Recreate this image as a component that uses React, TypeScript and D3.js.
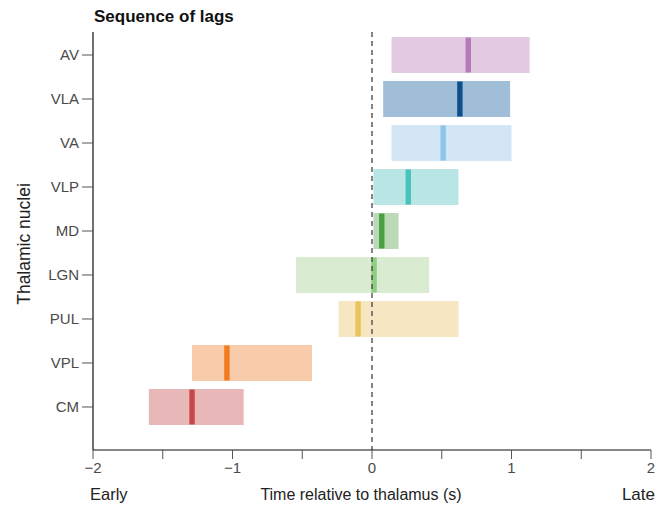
import React from 'react'
import * as d3 from 'd3'

// thalamic nuclei, top to bottom
const nuclei = ['AV', 'VLA', 'VA', 'VLP', 'MD', 'LGN', 'PUL', 'VPL', 'CM']
const lagStart = [0.14, 0.08, 0.14, 0.01, 0.01, -0.545, -0.24, -1.29, -1.6]
const lagEnd = [1.13, 0.99, 1.0, 0.62, 0.19, 0.41, 0.62, -0.43, -0.92]
const lagMedian = [0.69, 0.63, 0.51, 0.26, 0.07, 0.015, -0.1, -1.04, -1.29]
const fills = ['#e2cbe1', '#a0bed7', '#d3e6f5', '#b9e6e5', '#bad9b5', '#d9ebd0', '#f6e7c2', '#f8cbab', '#e8b8b9']
const markers = ['#b57bb7', '#0d4f8d', '#8cc5e9', '#47c3bf', '#4b9e46', '#8fcd81', '#e8c45a', '#f47a21', '#c9474b']
const xTicks = [-2, -1.5, -1, -0.5, 0, 0.5, 1, 1.5, 2]

const W = 668
const H = 507
const font = '"Liberation Sans", Arial, sans-serif'

export default function App() {
  const x = d3.scaleLinear().domain([-2, 2]).range([93, 651])
  const y = d3.scaleBand().domain(nuclei).range([29, 433]).paddingInner(0.182).paddingOuter(0.182)
  const axisTop = 32
  const axisBottom = 450
  const fmt = (v: number) => (v < 0 ? '\u2212' + Math.abs(v) : String(v))

  return (
    <svg width={W} height={H} style={{position: 'absolute', left: 0, top: 0}} fontFamily={font}>
      <rect width={W} height={H} fill="#fff" />
      <text x={94} y={22} fontSize={17} fontWeight="bold" fill="#111">Sequence of lags</text>

      {nuclei.map((n, i) => {
        const y0 = y(n)!
        const bw = y.bandwidth()
        return (
          <g key={n}>
            <rect x={x(lagStart[i])} y={y0} width={x(lagEnd[i]) - x(lagStart[i])} height={bw} fill={fills[i]} />
            <rect x={x(lagMedian[i]) - 2.7} y={y0 + 0.5} width={5.4} height={bw - 1} fill={markers[i]} />
          </g>
        )
      })}

      {/* zero reference */}
      <line x1={x(0)} x2={x(0)} y1={axisTop} y2={axisBottom} stroke="#444" strokeWidth={1.3} strokeDasharray="5,4" />

      {/* y axis */}
      <line x1={93} x2={93} y1={axisTop} y2={axisBottom} stroke="#111" strokeWidth={1.2} />
      {nuclei.map(n => {
        const cy = y(n)! + y.bandwidth() / 2
        return (
          <g key={'t' + n}>
            <line x1={82} x2={93} y1={cy} y2={cy} stroke="#555" strokeWidth={1} />
            <text x={79} y={cy} dy="0.35em" textAnchor="end" fontSize={15} fill="#4a4a4a">{n}</text>
          </g>
        )
      })}
      <text transform={`translate(30,${(axisTop + axisBottom) / 2 + 3}) rotate(-90)`} textAnchor="middle" fontSize={17.5} fill="#222">Thalamic nuclei</text>

      {/* x axis */}
      <line x1={93} x2={651} y1={axisBottom} y2={axisBottom} stroke="#111" strokeWidth={1.2} />
      {xTicks.map(t => (
        <g key={'x' + t}>
          <line x1={x(t)} x2={x(t)} y1={axisBottom} y2={axisBottom + 9} stroke="#555" strokeWidth={1} />
          {Number.isInteger(t) && (
            <text x={x(t)} y={473} textAnchor="middle" fontSize={15} fill="#4a4a4a">{fmt(t)}</text>
          )}
        </g>
      ))}
      <text x={90} y={500} fontSize={16.5} fill="#222">Early</text>
      <text x={x(0) - 11} y={500} textAnchor="middle" fontSize={16} fill="#222">Time relative to thalamus (s)</text>
      <text x={655} y={500} textAnchor="end" fontSize={17} fill="#222">Late</text>
    </svg>
  )
}
